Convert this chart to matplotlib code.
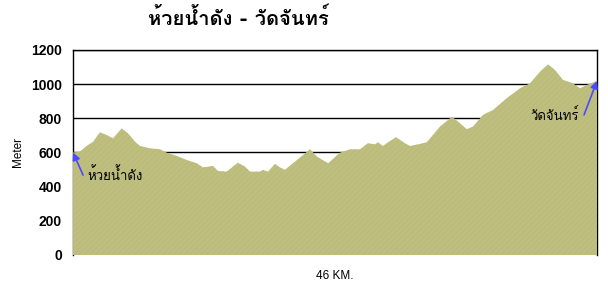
import matplotlib
matplotlib.use('Agg')
import matplotlib.pyplot as plt
from matplotlib import font_manager as fm
from fontTools.ttLib import TTFont

# distance along route (km) and elevation (m)
dist_km = [0, 0.6, 1.2, 1.76, 2.37, 2.96, 3.51, 4.28, 4.83, 5.44, 5.88, 6.76,
           7.64, 8.23, 9.1, 9.98, 10.86, 11.41, 12.29, 12.73, 13.49, 14.48,
           15.1, 15.54, 16.42, 16.68, 17.12, 17.73, 18.17, 18.61, 19.31,
           20.19, 20.8, 21.42, 22.39, 23.44, 24.32, 25.19, 25.9, 26.51,
           26.77, 27.21, 27.65, 28.36, 29.15, 29.58, 30.46, 31.05, 32.22,
           33.27, 33.97, 34.56, 35.11, 35.99, 36.87, 38.07, 39.24, 40.12,
           41.0, 41.7, 42.31, 43.01, 43.89, 44.51, 45.1, 46]
elev_m = [600, 605, 638, 663, 718, 702, 683, 741, 712, 663, 638, 624,
          619, 599, 580, 556, 537, 513, 521, 492, 488, 540,
          517, 488, 488, 498, 488, 533, 513, 498, 537,
          585, 619, 576, 537, 599, 619, 619, 654, 648,
          660, 638, 660, 689, 654, 638, 650, 660, 751,
          810, 771, 737, 751, 820, 849, 917, 976, 1005,
          1073, 1116, 1083, 1025, 1005, 976, 995, 1019]
y_ticks = [0, 200, 400, 600, 800, 1000, 1200]

title = 'ห้วยน้ำดัง - วัดจันทร์'
start_name = 'ห้วยน้ำดัง'
end_name = 'วัดจันทร์'


def thai_families():
    # look for any installed font that has Thai glyphs
    found = []
    paths = set(f.fname for f in fm.fontManager.ttflist)
    paths.update(fm.findSystemFonts())
    for p in sorted(paths):
        try:
            tt = TTFont(p, fontNumber=0, lazy=True)
            cmap = tt.getBestCmap() or {}
            if 0x0E2B in cmap and 0x0E49 in cmap:
                fm.fontManager.addfont(p)
                name = fm.FontProperties(fname=p).get_name()
                if name not in found:
                    found.append(name)
        except Exception:
            pass
    return found


fams = ['DejaVu Sans'] + thai_families()

plt.rcParams['font.family'] = fams
plt.rcParams['hatch.linewidth'] = 0.4

fig = plt.figure(figsize=(6.08, 2.87), dpi=100)
ax = fig.add_axes([0.1201, 0.1115, 0.8618, 0.7143])

ax.fill_between(dist_km, elev_m, 0, facecolor='#BEBF7E',
                edgecolor='#B7B879', hatch='//////', linewidth=0, zorder=3)

ax.set_xlim(0, 46)
ax.set_ylim(0, 1200)
ax.set_yticks(y_ticks)
ax.set_yticklabels([str(v) for v in y_ticks], fontweight='bold', fontsize=10,
                   family='Liberation Sans')
ax.tick_params(axis='y', length=0, pad=8)
ax.set_xticks([])
for v in y_ticks[1:]:
    ax.axhline(v, color='black', linewidth=1, zorder=1)
for s in ['left', 'top', 'right']:
    ax.spines[s].set_linewidth(1)
ax.spines['bottom'].set_visible(False)

ax.set_ylabel('Meter', fontsize=8.5, family='Liberation Sans')
ax.yaxis.set_label_coords(-0.093, 0.5)
ax.set_xlabel('46 KM.', fontsize=8.5, family='Liberation Sans')
ax.xaxis.set_label_coords(0.5, -0.072)
fig.suptitle(title, x=0.392, y=0.975, fontsize=14.5, fontweight='bold')

arrow = dict(arrowstyle='-|>', color='#4C4CFF', lw=1.2, mutation_scale=11,
             shrinkA=0, shrinkB=0)
ax.annotate('', xy=(dist_km[0], elev_m[0]), xytext=(0.88, 468),
            arrowprops=arrow, zorder=5)
ax.text(1.3, 470, start_name, fontsize=9.5, ha='left', va='center', zorder=5)
ax.annotate('', xy=(dist_km[-1], elev_m[-1]), xytext=(44.86, 820),
            arrowprops=arrow, zorder=5)
ax.text(44.4, 815, end_name, fontsize=9.5, ha='right', va='center', zorder=5)

fig.savefig('out.png', dpi=100)
